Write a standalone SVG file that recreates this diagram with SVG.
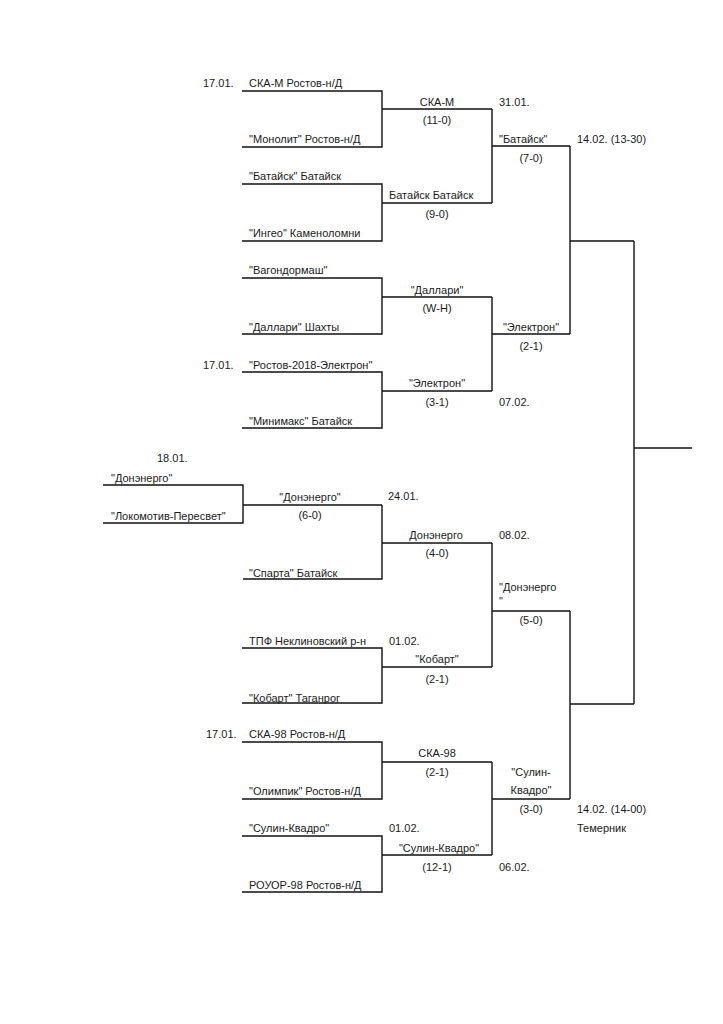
<svg xmlns="http://www.w3.org/2000/svg" width="723" height="1024" viewBox="0 0 723 1024">
<style>
text{font-family:"Liberation Sans",Arial,sans-serif;font-size:11px;fill:#1a1a1a}
.c{text-anchor:middle}
.ln{fill:none;stroke:#111;stroke-width:1.4}
</style>
<rect width="723" height="1024" fill="#fff"/>
<g id="connectors" class="ln">
<path d="M242,91H382V147H242M382,109H492"/>
<path d="M242,184H382V241H242M382,203H492"/>
<path d="M242,278H382V334H242M382,297H492"/>
<path d="M242,372H382V428H242M382,391H492"/>
<path d="M103,485H243V523H103M243,505H382"/>
<path d="M243,579H382V505M382,543H492"/>
<path d="M242,648H382V703H242M382,667H492"/>
<path d="M242,742H382V799H242M382,762H492"/>
<path d="M242,836H382V892H242M382,855H492"/>
<path d="M492,109V203M492,146H570"/>
<path d="M492,297V391M492,334H570"/>
<path d="M492,543V667M492,611H570"/>
<path d="M492,762V855M492,799H570"/>
<path d="M570,146V334M570,241H634"/>
<path d="M570,611V799M570,704H634"/>
<path d="M634,241V704M634,448H692"/>
</g>
<g id="r1-1"><text x="203" y="87">17.01.</text><text x="249" y="87">СКА-М Ростов-н/Д</text><text x="249" y="143">"Монолит" Ростов-н/Д</text></g>
<g id="r1-2"><text x="249" y="180">"Батайск" Батайск</text><text x="249" y="237">"Ингео" Каменоломни</text></g>
<g id="r1-3"><text x="249" y="274">"Вагондормаш"</text><text x="249" y="331">"Даллари" Шахты</text></g>
<g id="r1-4"><text x="203" y="369">17.01.</text><text x="249" y="369">"Ростов-2018-Электрон"</text><text x="249" y="425">"Минимакс" Батайск</text></g>
<g id="r0"><text x="157" y="462">18.01.</text><text x="111" y="482">"Донэнерго"</text><text x="111" y="520">"Локомотив-Пересвет"</text></g>
<g id="r0-w"><text class="c" x="310" y="501">"Донэнерго"</text><text class="c" x="310" y="519">(6-0)</text><text x="388" y="500">24.01.</text><text x="249" y="577">"Спарта" Батайск</text></g>
<g id="r1-6"><text x="249" y="645">ТПФ Неклиновский р-н</text><text x="389" y="645">01.02.</text><text x="249" y="702">"Кобарт" Таганрог</text></g>
<g id="r1-7"><text x="206" y="738">17.01.</text><text x="249" y="738">СКА-98 Ростов-н/Д</text><text x="249" y="795">"Олимпик" Ростов-н/Д</text></g>
<g id="r1-8"><text x="249" y="832">"Сулин-Квадро"</text><text x="389" y="832">01.02.</text><text x="249" y="889">РОУОР-98 Ростов-н/Д</text></g>
<g id="r2-1"><text class="c" x="437" y="106">СКА-М</text><text class="c" x="437" y="124">(11-0)</text><text x="499" y="106">31.01.</text></g>
<g id="r2-2"><text x="389" y="199">Батайск Батайск</text><text class="c" x="437" y="218">(9-0)</text></g>
<g id="r2-3"><text class="c" x="437" y="294">"Даллари"</text><text class="c" x="437" y="312">(W-H)</text></g>
<g id="r2-4"><text class="c" x="437" y="387">"Электрон"</text><text class="c" x="437" y="406">(3-1)</text><text x="499" y="406">07.02.</text></g>
<g id="r2-5"><text class="c" x="436" y="539">Донэнерго</text><text class="c" x="437" y="557">(4-0)</text><text x="499" y="539">08.02.</text></g>
<g id="r2-6"><text class="c" x="437" y="663">"Кобарт"</text><text class="c" x="437" y="683">(2-1)</text></g>
<g id="r2-7"><text class="c" x="437" y="757">СКА-98</text><text class="c" x="437" y="776">(2-1)</text></g>
<g id="r2-8"><text class="c" x="439" y="852">"Сулин-Квадро"</text><text class="c" x="437" y="871">(12-1)</text><text x="499" y="871">06.02.</text></g>
<g id="r3-1"><text x="499" y="143">"Батайск"</text><text class="c" x="531" y="162">(7-0)</text><text x="577" y="143">14.02. (13-30)</text></g>
<g id="r3-2"><text class="c" x="531" y="331">"Электрон"</text><text class="c" x="531" y="350">(2-1)</text></g>
<g id="r3-3"><text x="499" y="591">"Донэнерго</text><text x="499" y="605">"</text><text class="c" x="531" y="624">(5-0)</text></g>
<g id="r3-4"><text class="c" x="531" y="776">"Сулин-</text><text class="c" x="531" y="794">Квадро"</text><text class="c" x="531" y="813">(3-0)</text><text x="577" y="813">14.02. (14-00)</text><text x="577" y="832">Темерник</text></g>
</svg>
